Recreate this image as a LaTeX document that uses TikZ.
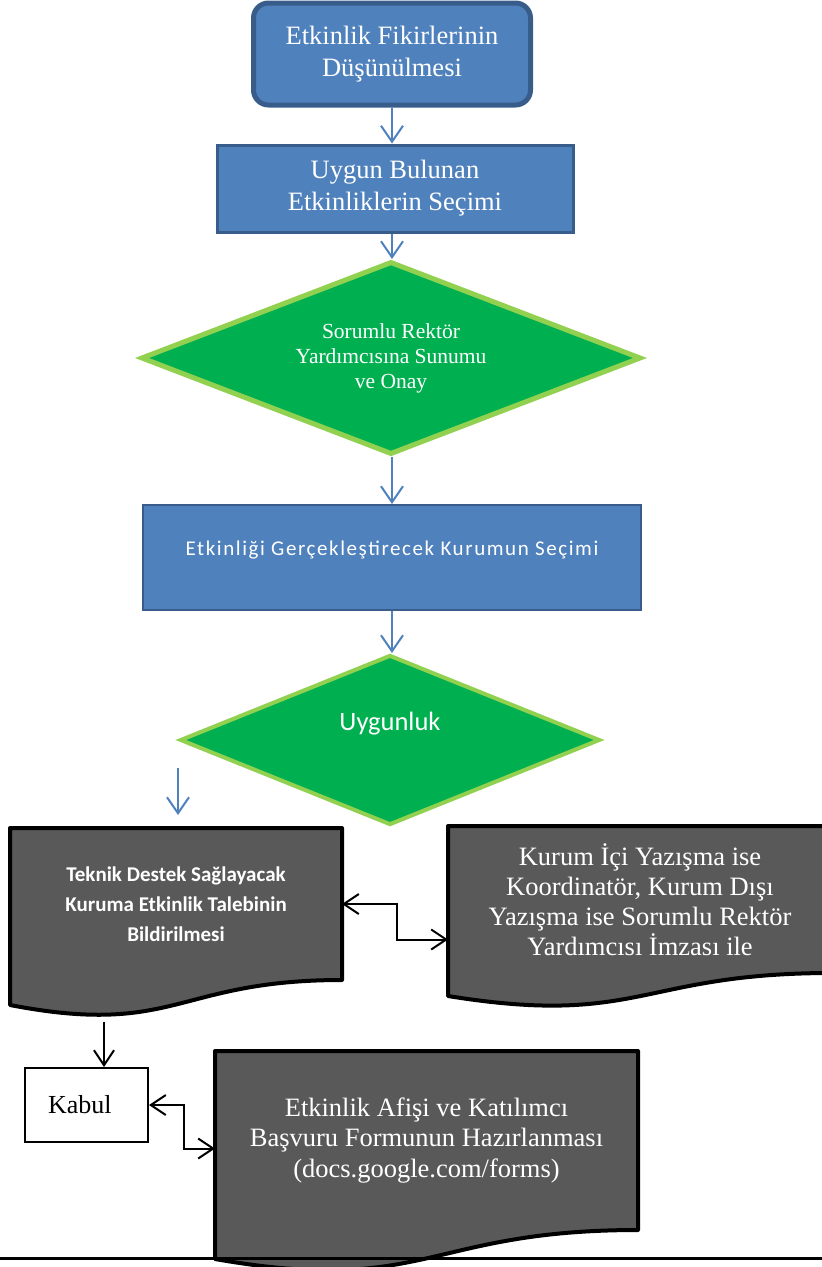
\documentclass[tikz,border=0pt]{standalone}
\usepackage{fontspec}
\setmainfont{Liberation Serif}
\newfontfamily\calibri{Carlito}
\newfontfamily\calibriwide[LetterSpace=7.5]{Carlito}
\usepackage{tikz}
\usetikzlibrary{shapes.geometric, arrows.meta, backgrounds, calc}
\definecolor{boxblue}{HTML}{4F81BD}
\definecolor{boxedge}{HTML}{385D8A}
\definecolor{dgreen}{HTML}{00B050}
\definecolor{lgreen}{HTML}{92D050}
\definecolor{docgray}{HTML}{595959}
\newcommand\Fs[2]{\fontsize{#1}{#2}\selectfont}
% document shape behind a text node: #1 node, #2 left drop, #3 control drop
\newcommand\docshape[3]{%
  \begin{scope}[on background layer]
    \filldraw[fill=docgray, draw=black, line width=4pt, line join=round]
      (#1.north west) -- (#1.north east) -- (#1.south east)
      .. controls (#1.south) and ($(#1.south)+(0,#3)$) .. ($(#1.south west)+(0,#2)$)
      -- cycle;
  \end{scope}}

\begin{document}
\begin{tikzpicture}[x=1pt, y=-1pt,
    bluebox/.style={rectangle, fill=boxblue, draw=boxedge, text=white, align=center, inner sep=0pt},
    greendia/.style={diamond, fill=dgreen, draw=lgreen, text=white, align=center, inner sep=0pt, shape aspect=2.6},
    docnode/.style={rectangle, text=white, align=center, inner sep=0pt, outer sep=2pt},
    bluearrow/.style={draw=boxblue, line width=2pt, -{Straight Barb[length=16pt, width=22pt]}},
    blackarrow/.style={draw=black, line width=2pt, -{Straight Barb[length=15pt, width=20pt]}},
    dblarrow/.style={draw=black, line width=2pt, {Straight Barb[length=15pt, width=20pt]}-{Straight Barb[length=15pt, width=20pt]}}]
  \useasboundingbox (0,0) rectangle (822,1267);

  % main column
  \node[bluebox, rounded corners=15pt, line width=5pt, minimum width=277pt, minimum height=102pt,
    font=\Fs{26.5}{32}] (fikir) at (392,54) {Etkinlik Fikirlerinin\\Düşünülmesi};
  \node[bluebox, line width=3pt, minimum width=356pt, minimum height=87pt,
    font=\Fs{26.5}{32}] (secim) at (395,188.5) {Uygun Bulunan\\Etkinliklerin Seçimi};
  \node[greendia, line width=5pt, minimum width=500pt, minimum height=193pt,
    font=\Fs{21.5}{25}] (onay) at (391,358) {Sorumlu Rektör\\Yardımcısına Sunumu\\ve Onay};
  \node[bluebox, line width=2pt, minimum width=498pt, minimum height=105pt, text depth=19pt,
    font=\calibriwide\Fs{21}{24}] (kurum) at (392,557.5) {Etkinliği Gerçekleştirecek Kurumun Seçimi};
  \node[greendia, line width=4pt, minimum width=420pt, minimum height=170pt, text depth=38pt,
    font=\calibri\Fs{26.5}{30}] (uygun) at (390,740) {Uygunluk};

  \draw[bluearrow] (fikir.south) -- (fikir.south |- secim.north);
  \draw[bluearrow] (fikir.south |- secim.south) -- (fikir.south |- onay.north);
  \draw[bluearrow] (fikir.south |- onay.south) -- (fikir.south |- kurum.north);
  \draw[bluearrow] (fikir.south |- kurum.south) -- (fikir.south |- uygun.north);
  \coordinate (free1) at (178,768);
  \coordinate (free2) at (178,815);
  \draw[bluearrow] (free1) -- (free2);

  % document shapes
  \node[docnode, minimum width=328pt, minimum height=148pt, font=\calibri\bfseries\Fs{21}{30}] (talep) at (176,904)
    {Teknik Destek Sağlayacak\\Kuruma Etkinlik Talebinin\\Bildirilmesi};
  \docshape{talep}{25}{57}
  \node[docnode, minimum width=380pt, minimum height=143pt, font=\Fs{26.5}{30}] (imza) at (640,899.5)
    {Kurum İçi Yazışma ise\\Koordinatör, Kurum Dışı\\Yazışma ise Sorumlu Rektör\\Yardımcısı İmzası ile};
  \docshape{imza}{23}{54}
  \node[docnode, minimum width=419pt, minimum height=175pt, font=\Fs{26.5}{30.5}] (afis) at (426.5,1140.5)
    {Etkinlik Afişi ve Katılımcı\\Başvuru Formunun Hazırlanması\\(docs.google.com/forms)};
  \docshape{afis}{29}{66}
  \node[rectangle, draw=black, line width=2pt, fill=white, minimum width=123pt, minimum height=74pt,
    text width=77pt, align=left, font=\Fs{26}{30}] (kabul) at (86.5,1105) {Kabul};

  \draw[dblarrow] (talep.east) -- ++(55,0) |- ([yshift=-40pt]imza.west);
  \coordinate (talepalt) at (104,1022);
  \draw[blackarrow] (talepalt) -- (talepalt |- kabul.north);
  \draw[dblarrow] (kabul.east) -- ++(35,0) |- ([yshift=-8pt]afis.west);

  \draw[line width=3pt] (0,1258) -- (822,1258);
\end{tikzpicture}
\end{document}
